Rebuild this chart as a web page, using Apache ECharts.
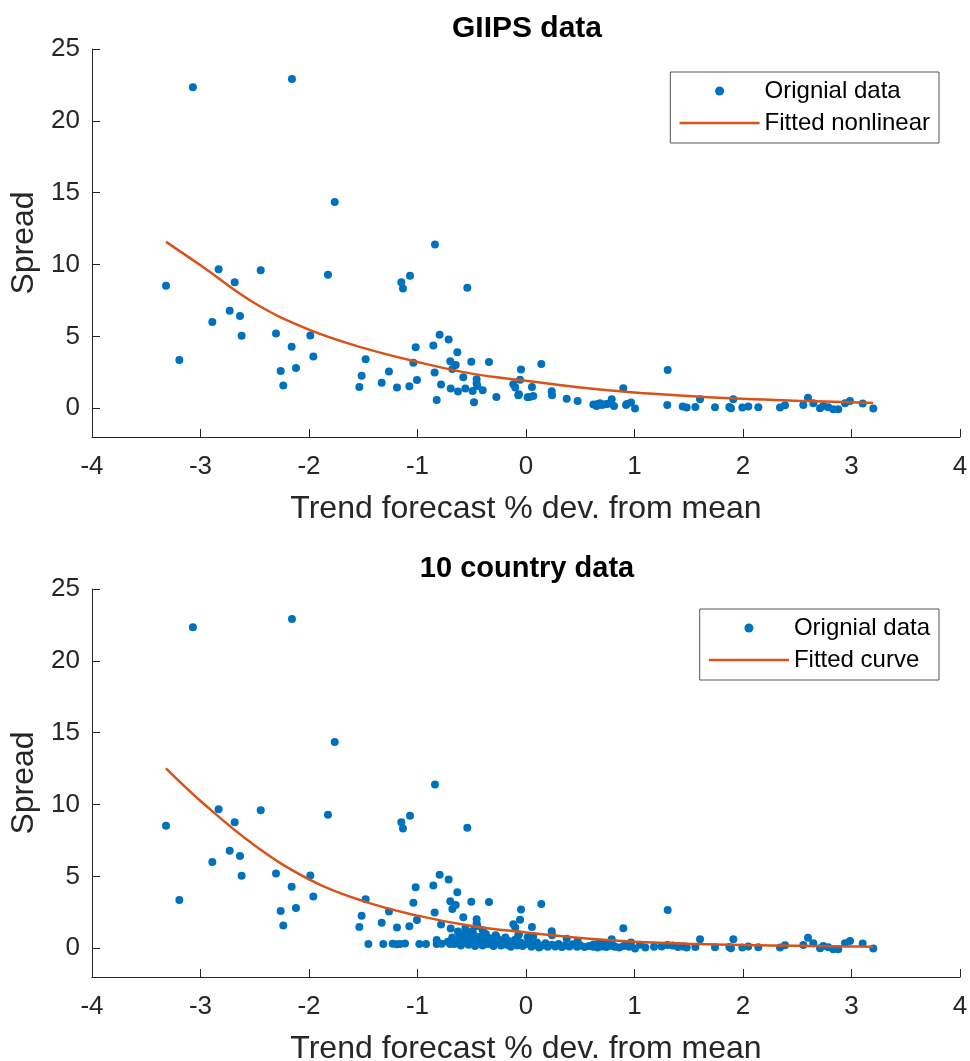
<!DOCTYPE html>
<html>
<head>
<meta charset="utf-8">
<script src="https://cdn.jsdelivr.net/npm/echarts@6/dist/echarts.min.js"></script>
<style>
html,body{margin:0;padding:0;background:#fff;}
#chart{width:970px;height:1061px;}
</style>
</head>
<body>
<div id="chart"></div>
<script>
// ---- data ----
const xTicks = [-4, -3, -2, -1, 0, 1, 2, 3, 4];
const yTicks = [0, 5, 10, 15, 20, 25];

const titleTop = 'GIIPS data';
const titleBottom = '10 country data';
const xName = 'Trend forecast % dev. from mean';
const yName = 'Spread';
const legendData = 'Orignial data';
const legendFitTop = 'Fitted nonlinear';
const legendFitBottom = 'Fitted curve';

// GIIPS observations [x, y]
const giipsPoints = [
  [-3.07,22.33],[-2.157,22.91],[-1.763,14.36],[-0.839,11.40],[-3.318,8.52],[-2.833,9.68],
  [-2.685,8.76],[-2.445,9.61],[-1.825,9.29],[-1.149,8.76],[-1.134,8.34],[-1.069,9.22],
  [-0.541,8.39],[-3.195,3.36],[-2.891,6.00],[-2.731,6.79],[-2.636,6.42],[-2.621,5.05],
  [-2.304,5.21],[-2.160,4.28],[-1.988,5.07],[-1.960,3.61],[-2.261,2.59],[-2.237,1.58],
  [-2.120,2.80],[-1.478,3.41],[-1.515,2.27],[-1.536,1.48],[-1.330,1.78],[-1.263,2.55],
  [-1.189,1.44],[-1.075,1.53],[-1.038,3.17],[-1.017,4.24],[-1.005,1.97],[-0.854,4.36],
  [-0.796,5.12],[-0.713,4.79],[-0.842,2.48],[-0.783,1.65],[-0.823,0.58],[-0.633,3.89],
  [-0.698,3.27],[-0.648,3.01],[-0.679,2.73],[-0.504,3.24],[-0.341,3.22],[-0.578,2.15],
  [-0.694,1.37],[-0.627,1.16],[-0.559,1.37],[-0.492,1.20],[-0.455,2.01],[-0.449,1.55],
  [-0.455,1.74],[-0.399,1.25],[-0.479,0.42],[-0.273,0.79],[-0.117,1.67],[-0.099,1.44],
  [-0.046,2.69],[-0.055,1.99],[-0.071,0.90],[0.015,0.76],[0.141,3.08],[-0.065,0.97],
  [0.055,1.48],[0.031,0.79],[0.067,0.86],[0.237,1.18],[0.240,0.90],[0.375,0.67],
  [0.476,0.51],[0.621,0.26],[0.651,0.16],[0.66,0.30],[0.682,0.35],[0.70,0.22],
  [0.728,0.28],[0.75,0.30],[0.790,0.63],[0.811,0.16],[0.897,1.39],[0.922,0.23],
  [0.93,0.30],[0.968,0.40],[1.005,-0.02],[1.306,2.66],[1.302,0.23],[1.444,0.12],
  [1.481,0.05],[1.561,0.09],[1.604,0.63],[1.742,0.07],[1.874,0.09],[1.911,0.63],
  [1.889,0.00],[1.994,0.05],[2.049,0.12],[2.141,0.07],[2.341,0.05],[2.387,0.21],
  [2.556,0.23],[2.599,0.74],[2.648,0.35],[2.710,0.00],[2.740,0.16],[2.786,0.07],
  [2.832,-0.07],[2.878,-0.07],[2.940,0.35],[2.986,0.51],[3.103,0.33],[3.201,-0.02]
];

// additional observations present only in the 10-country panel [x, y]
const extraPoints = [
  [-1.453,0.30],[-1.315,0.30],[-1.229,0.32],[-1.192,0.28],[-1.161,0.30],[-1.115,0.33],
  [-0.983,0.30],[-0.922,0.30],[-0.823,0.30],[-0.777,0.32],[-0.70,0.30],
  [-0.72,0.45],[-0.68,0.75],[-0.66,0.30],[-0.63,0.55],[-0.61,0.95],[-0.60,0.20],
  [-0.58,0.65],[-0.56,0.40],[-0.55,1.05],[-0.53,0.25],[-0.51,0.70],[-0.50,0.50],
  [-0.48,0.90],[-0.47,0.15],[-0.45,0.60],[-0.43,0.35],[-0.42,0.80],[-0.40,0.20],
  [-0.38,0.55],[-0.37,1.00],[-0.35,0.30],[-0.33,0.70],[-0.31,0.45],[-0.30,0.15],
  [-0.28,0.90],[-0.26,0.35],[-0.25,0.60],[-0.23,0.20],[-0.21,0.45],[-0.19,0.75],
  [-0.18,0.25],[-0.16,0.50],[-0.14,0.10],[-0.12,0.35],[-0.10,0.60],[-0.08,0.20],
  [-0.05,0.40],[-0.03,0.15],[0.00,0.30],[0.03,0.50],[0.05,0.10],[0.08,0.25],
  [0.10,0.40],[0.12,0.05],[0.15,0.20],[0.18,0.35],[0.20,0.10],[0.24,0.25],
  [0.27,0.12],[0.30,0.30],[0.33,0.08],[0.36,0.20],[0.40,0.12],[0.43,0.28],
  [0.47,0.10],[0.50,0.20],[0.54,0.08],[0.58,0.15],[0.62,0.10],[0.66,0.05],
  [0.70,0.12],[0.74,0.08],[0.78,0.18],[0.82,0.10],[0.86,0.05],[0.90,0.15],
  [0.95,0.10],[1.05,0.25],[1.10,0.05],[1.18,0.10],[1.25,0.12],[1.35,0.20],[1.40,0.08]
];

// fitted curves
const curveX   = [-3.318, -3, -2.5, -2, -1.5, -1, -0.5, 0, 0.5, 1, 1.5, 2, 2.5, 3, 3.2];
const fitGIIPS = [11.58, 9.95, 7.31, 5.47, 4.20, 3.22, 2.41, 1.92, 1.45, 1.10, 0.86, 0.66, 0.52, 0.41, 0.36];
const fit10    = [12.51, 10.25, 7.15, 4.80, 3.28, 2.27, 1.55, 1.10, 0.72, 0.46, 0.32, 0.22, 0.17, 0.12, 0.11];

// ---- chart ----
const FONT = 'Liberation Sans, Arial, Helvetica, sans-serif';
const AX = '#262626';
const BLUE = '#0072BD';
const ORANGE = '#D95319';

const tenPoints = giipsPoints.concat(extraPoints);
const zip = (xs, ys) => xs.map((x, i) => [x, ys[i]]);

function xAxis(gi) {
  return {
    type: 'value', gridIndex: gi, min: xTicks[0], max: xTicks[xTicks.length - 1], interval: 1,
    name: xName, nameLocation: 'middle', nameGap: 56,
    nameTextStyle: { fontFamily: FONT, fontSize: 32, color: AX },
    axisLine: { show: true, onZero: false, lineStyle: { color: AX, width: 1 } },
    axisTick: { show: true, inside: true, length: 8, lineStyle: { color: AX } },
    axisLabel: { fontFamily: FONT, fontSize: 26, color: AX, margin: 17 },
    splitLine: { show: false }
  };
}
function yAxis(gi) {
  return {
    type: 'value', gridIndex: gi, min: -2, max: 25,
    name: yName, nameLocation: 'middle', nameGap: 49,
    nameTextStyle: { fontFamily: FONT, fontSize: 32, color: AX },
    axisLine: { show: true, onZero: false, lineStyle: { color: AX, width: 1 } },
    axisTick: { show: true, inside: true, length: 8, customValues: yTicks, lineStyle: { color: AX } },
    axisLabel: { fontFamily: FONT, fontSize: 26, color: AX, margin: 12, customValues: yTicks },
    splitLine: { show: false }
  };
}
function legend(top, fitName) {
  return {
    orient: 'vertical', right: 31, top: top,
    data: [
      { name: legendData },
      { name: fitName, itemStyle: { opacity: 0 }, lineStyle: { width: 2.5, color: ORANGE } }
    ],
    itemWidth: 80, itemHeight: 9, itemGap: 8,
    padding: [7, 9, 8, 8],
    borderColor: '#555', borderWidth: 1, backgroundColor: '#fff',
    textStyle: { fontFamily: FONT, fontSize: 24, color: '#000' },
    selectedMode: false
  };
}

const chart = echarts.init(document.getElementById('chart'), null, { renderer: 'canvas' });
chart.setOption({
  animation: false,
  backgroundColor: '#fff',
  graphic: [
    { type: 'text', x: 527, y: 14, style: { text: titleTop, font: 'bold 30px ' + FONT, fill: '#000', textAlign: 'center', textVerticalAlign: 'top' } },
    { type: 'text', x: 527, y: 554, style: { text: titleBottom, font: 'bold 29px ' + FONT, fill: '#000', textAlign: 'center', textVerticalAlign: 'top' } }
  ],
  grid: [
    { left: 92, right: 10, top: 49, height: 388, containLabel: false, outerBoundsMode: 'none' },
    { left: 92, right: 10, top: 589, height: 388, containLabel: false, outerBoundsMode: 'none' }
  ],
  xAxis: [xAxis(0), xAxis(1)],
  yAxis: [yAxis(0), yAxis(1)],
  legend: [legend(72, legendFitTop), legend(609, legendFitBottom)],
  series: [
    { type: 'scatter', name: legendData, xAxisIndex: 0, yAxisIndex: 0, data: giipsPoints,
      symbol: 'circle', symbolSize: 8, itemStyle: { color: BLUE, opacity: 1 } },
    { type: 'line', name: legendFitTop, xAxisIndex: 0, yAxisIndex: 0, data: zip(curveX, fitGIIPS),
      smooth: 0.4, symbol: 'none', showSymbol: false, lineStyle: { color: ORANGE, width: 2.5 }, itemStyle: { color: ORANGE } },
    { type: 'scatter', name: legendData, xAxisIndex: 1, yAxisIndex: 1, data: tenPoints,
      symbol: 'circle', symbolSize: 8, itemStyle: { color: BLUE, opacity: 1 } },
    { type: 'line', name: legendFitBottom, xAxisIndex: 1, yAxisIndex: 1, data: zip(curveX, fit10),
      smooth: 0.4, symbol: 'none', showSymbol: false, lineStyle: { color: ORANGE, width: 2.5 }, itemStyle: { color: ORANGE } }
  ]
});
</script>
</body>
</html>
